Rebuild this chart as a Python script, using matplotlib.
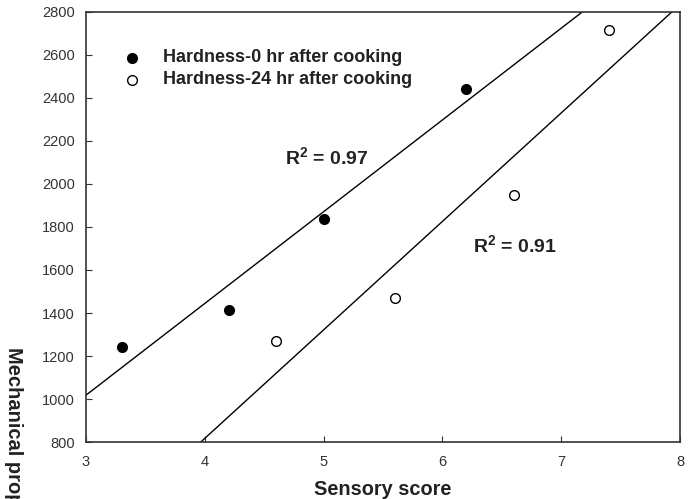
import numpy as np
import matplotlib.pyplot as plt

plt.rcParams['font.family'] = ['Liberation Sans', 'DejaVu Sans']
plt.rcParams['mathtext.fontset'] = 'custom'
plt.rcParams['mathtext.rm'] = 'Liberation Sans'
plt.rcParams['mathtext.bf'] = 'Liberation Sans:bold'

# Hardness 0 hr after cooking
score_0hr = [3.3, 4.2, 5.0, 6.2]
hard_0hr = [1240, 1415, 1835, 2440]
# Hardness 24 hr after cooking
score_24hr = [4.6, 5.6, 6.6, 7.4]
hard_24hr = [1270, 1470, 1950, 2715]

r2_labels = ['0.97', '0.91']
x_ticks = [3, 4, 5, 6, 7, 8]
y_ticks = list(range(800, 2801, 200))

fig = plt.figure(figsize=(6.92, 4.99), dpi=100)
ax = fig.add_axes([0.1243, 0.1142, 0.8584, 0.8618])

# regression lines across the full x range
xs = np.array([3, 8])
for sx, hy in [(score_0hr, hard_0hr), (score_24hr, hard_24hr)]:
    k, b = np.polyfit(sx, hy, 1)
    ax.plot(xs, k * xs + b, color='black', linewidth=1)

ax.plot(score_0hr, hard_0hr, 'o', color='black', markersize=7, zorder=3)
ax.plot(score_24hr, hard_24hr, 'o', markerfacecolor='white', markeredgecolor='black',
        markeredgewidth=1, markersize=7, zorder=3)

ax.set_xlim(3, 8)
ax.set_ylim(800, 2800)
ax.set_xticks(x_ticks)
ax.set_yticks(y_ticks)
ax.tick_params(direction='in', length=4, labelsize=10.5, colors='#333333')
ax.tick_params(axis='y', pad=8)
ax.tick_params(axis='x', pad=9)
for s in ax.spines.values():
    s.set_linewidth(1.2)
    s.set_color('#333333')

# legend drawn as marker + text inside the axes
ax.plot([3.39], [2586], 'o', color='black', markersize=7)
ax.plot([3.39], [2484], 'o', markerfacecolor='white', markeredgecolor='black', markersize=7)
ax.text(3.65, 2586, 'Hardness-0 hr after cooking', fontsize=13, fontweight='bold',
        va='center', color='#222222')
ax.text(3.65, 2484, 'Hardness-24 hr after cooking', fontsize=13, fontweight='bold',
        va='center', color='#222222')

ax.text(4.675, 2126, r'$\mathbf{R^{2}}$ = ' + r2_labels[0], fontsize=14, fontweight='bold',
        va='center', color='#222222')
ax.text(6.258, 1716, r'$\mathbf{R^{2}}$ = ' + r2_labels[1], fontsize=14, fontweight='bold',
        va='center', color='#222222')

fig.text(0.553, 0.038, 'Sensory score', fontsize=14.4, fontweight='bold', ha='center',
         va='top', color='#222222')
fig.text(0.019, 0.305, 'Mechanical properties (g)', fontsize=14.5, fontweight='bold',
         rotation=270, ha='center', va='top', color='#222222')

fig.savefig('out.png', dpi=100)
